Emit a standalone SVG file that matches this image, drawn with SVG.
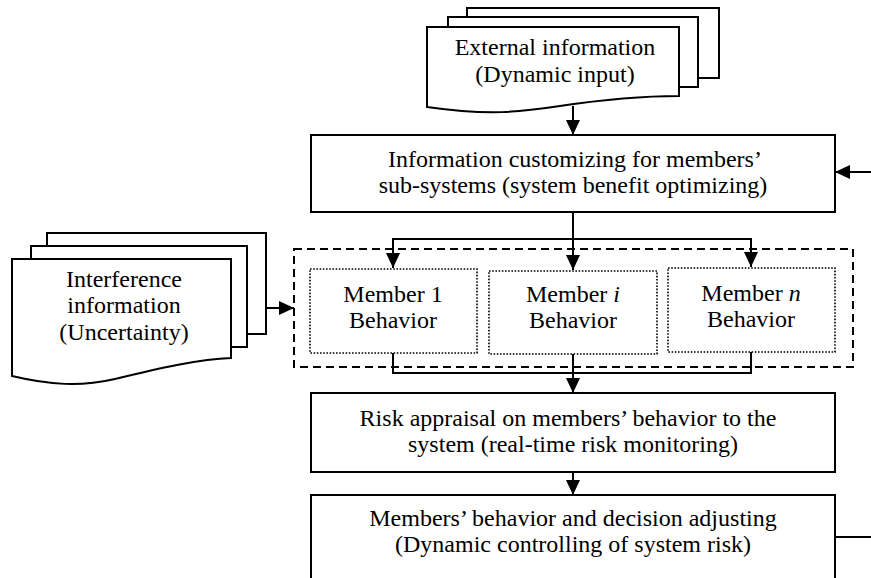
<svg xmlns="http://www.w3.org/2000/svg" width="871" height="578" viewBox="0 0 871 578">
  <style>
    .box { fill: #ffffff; stroke: #000000; stroke-width: 2; }
    .member { fill: #ffffff; stroke: #000000; stroke-width: 1.6; stroke-dasharray: 1.6 1.6; }
    .group { fill: none; stroke: #000000; stroke-width: 2; stroke-dasharray: 8 5; }
    .line { fill: none; stroke: #000000; stroke-width: 2; }
    .label { font-family: "Liberation Serif", "Times New Roman", serif; font-size: 24px; fill: #000000; text-anchor: middle; }
  </style>
  <defs>
    <marker id="arrow" viewBox="0 0 15 14" refX="15" refY="7" markerWidth="15" markerHeight="14" markerUnits="userSpaceOnUse" orient="auto">
      <path d="M0,0 L15,7 L0,14 Z" fill="#000000"/>
    </marker>
  </defs>
  <rect width="871" height="578" fill="#ffffff"/>

  <!-- dashed grouping frame around member behaviours -->
  <rect id="members-frame" class="group" x="294" y="249" width="559" height="118"/>

  <g id="connectors">
    <!-- external information into customizing -->
    <line class="line" x1="573" y1="106" x2="573" y2="135" marker-end="url(#arrow)"/>
    <!-- feedback into customizing -->
    <line class="line" x1="871" y1="172" x2="835" y2="172" marker-end="url(#arrow)"/>
    <!-- fan-out to members -->
    <line class="line" x1="573" y1="212" x2="573" y2="239"/>
    <line class="line" x1="392" y1="239" x2="752" y2="239"/>
    <line class="line" x1="393" y1="238" x2="393" y2="268" marker-end="url(#arrow)"/>
    <line class="line" x1="573" y1="238" x2="573" y2="270" marker-end="url(#arrow)"/>
    <line class="line" x1="751" y1="238" x2="751" y2="267" marker-end="url(#arrow)"/>
    <!-- interference into members frame -->
    <line class="line" x1="266" y1="308" x2="294" y2="308" marker-end="url(#arrow)"/>
    <!-- fan-in from members -->
    <line class="line" x1="393" y1="353" x2="393" y2="374"/>
    <line class="line" x1="573" y1="354" x2="573" y2="374"/>
    <line class="line" x1="751" y1="352" x2="751" y2="374"/>
    <line class="line" x1="392" y1="373" x2="752" y2="373"/>
    <line class="line" x1="573" y1="373" x2="573" y2="393" marker-end="url(#arrow)"/>
    <!-- risk appraisal into adjusting -->
    <line class="line" x1="573" y1="472" x2="573" y2="495" marker-end="url(#arrow)"/>
    <!-- feedback out of adjusting -->
    <line class="line" x1="835" y1="537" x2="871" y2="537"/>
  </g>

  <g id="external-info">
    <rect class="box" x="467" y="8" width="252" height="70"/>
    <rect class="box" x="448" y="17" width="250" height="70"/>
    <path class="box" d="M427,27 H679 V96 C640,96 600,100 560,106 C520,112 490,116 427,107 Z"/>
    <text class="label" x="555" y="55">External information</text>
    <text class="label" x="555" y="82">(Dynamic input)</text>
  </g>

  <g id="customizing">
    <rect class="box" x="311" y="135" width="524" height="77"/>
    <text class="label" x="575" y="167">Information customizing for members’</text>
    <text class="label" x="573" y="193">sub-systems (system benefit optimizing)</text>
  </g>

  <g id="interference-info">
    <rect class="box" x="47" y="233" width="219" height="101"/>
    <rect class="box" x="31" y="246" width="216" height="101"/>
    <path class="box" d="M12,259 H231 V358 C200,359 160,368 115,379 C80,387 50,385 12,376 Z"/>
    <text class="label" x="124" y="287">Interference</text>
    <text class="label" x="124" y="313">information</text>
    <text class="label" x="124" y="340">(Uncertainty)</text>
  </g>

  <g id="member-1">
    <rect class="member" x="310" y="269" width="167" height="84"/>
    <text class="label" x="393" y="302">Member 1</text>
    <text class="label" x="393" y="328">Behavior</text>
  </g>

  <g id="member-i">
    <rect class="member" x="489" y="271" width="168" height="83"/>
    <text class="label" x="573" y="302">Member <tspan font-style="italic">i</tspan></text>
    <text class="label" x="573" y="328">Behavior</text>
  </g>

  <g id="member-n">
    <rect class="member" x="668" y="268" width="167" height="84"/>
    <text class="label" x="751" y="301">Member <tspan font-style="italic">n</tspan></text>
    <text class="label" x="751" y="327">Behavior</text>
  </g>

  <g id="risk-appraisal">
    <rect class="box" x="311" y="393" width="524" height="79"/>
    <text class="label" x="568" y="426">Risk appraisal on members’ behavior to the</text>
    <text class="label" x="573" y="452">system (real-time risk monitoring)</text>
  </g>

  <g id="adjusting">
    <rect class="box" x="311" y="495" width="524" height="110"/>
    <text class="label" x="573" y="526">Members’ behavior and decision adjusting</text>
    <text class="label" x="573" y="552">(Dynamic controlling of system risk)</text>
  </g>
</svg>
